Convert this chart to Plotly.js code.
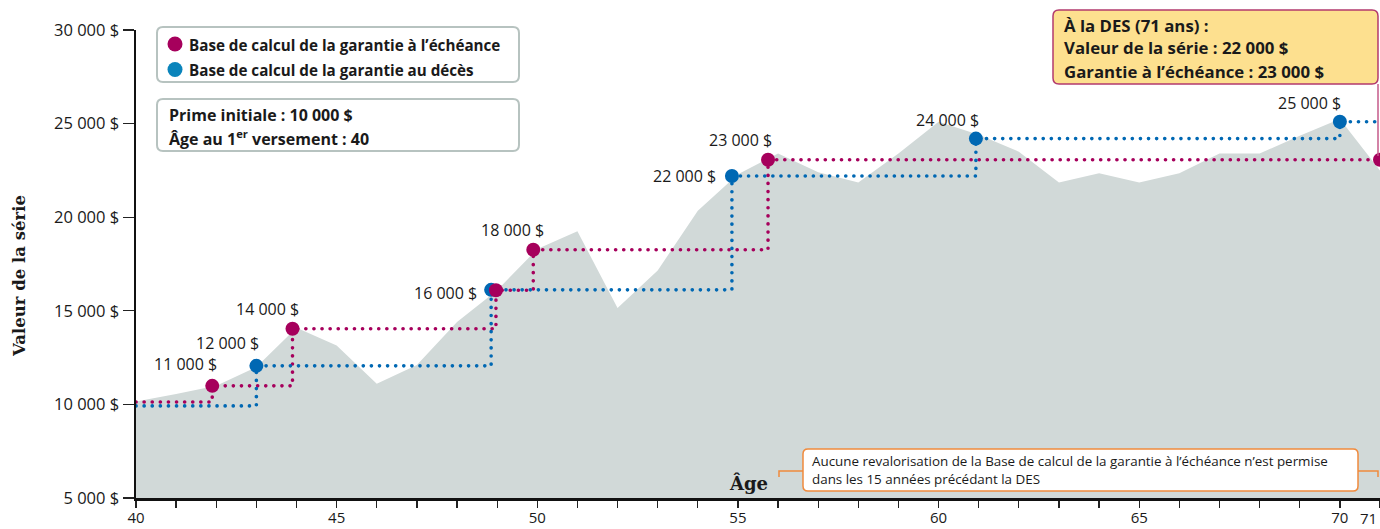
<!DOCTYPE html>
<html>
<head>
<meta charset="utf-8">
<script src="https://cdn.plot.ly/plotly-3.0.1.min.js"></script>
<style>
html,body{margin:0;padding:0;background:#ffffff;}
#chart{width:1380px;height:529px;}
.scatterlayer .js-line{stroke-linecap:round !important;}
</style>
</head>
<body>
<div id="chart"></div>
<script>
// ---------- DATA ----------
const ages = [40,41,42,43,44,45,46,47,48,49,50,51,52,53,54,55,56,57,58,59,60,61,62,63,64,65,66,67,68,69,70,71];
const seriesValue = [10150,10550,11000,12000,14100,13150,11100,12100,14400,16100,18300,19250,15150,17150,20350,22300,23400,22400,21850,23400,25100,24400,23500,21850,22350,21850,22350,23400,23400,24350,25250,22500];

// Base de calcul de la garantie à l'échéance (step line, values as drawn)
const maturityStepAges   = [40, 41.9, 43.9, 48.97, 49.9, 55.75, 71];
const maturityStepValues = [10130, 10990, 14040, 16100, 18260, 23070, 23070];
const maturityLabels     = ['', '11 000 $', '14 000 $', '', '18 000 $', '23 000 $', ''];

// Base de calcul de la garantie au décès (step line, values as drawn)
const deathStepAges   = [40, 43, 48.85, 54.85, 60.93, 70, 71];
const deathStepValues = [9920, 12060, 16120, 22200, 24200, 25100, 25100];
const deathLabels     = ['', '12 000 $', '16 000 $', '22 000 $', '24 000 $', '25 000 $', ''];

const yTickValues = [5000, 10000, 15000, 20000, 25000, 30000];
const yTickLabels = ['5 000 $', '10 000 $', '15 000 $', '20 000 $', '25 000 $', '30 000 $'];
const xTickValues = [40, 45, 50, 55, 60, 65, 70];
const xTickLabels = ['40', '45', '50', '55', '60', '65', '70'];
const lastAgeLabel = '71';

// ---------- STYLE / LAYOUT HELPERS ----------
const MAG = '#a6005c';
const BLUE = '#0068b3';
const AREA = '#d1d9d8';
const TXT = '#1a1a1a';
const FONT = '"Open Sans", Lato, sans-serif';
const W = 1380, H = 529;
const ML = 136, MR = 0, MT = 30, MB = 31;
const PW = W - ML - MR, PH = H - MT - MB;
const X = px => (px - ML) / PW;
const Y = py => (H - MB - py) / PH;
const P = (px, py) => X(px).toFixed(5) + ',' + Y(py).toFixed(5);
function rr(x0, y0, x1, y1, r) {
  return 'M' + P(x0 + r, y0) + ' L' + P(x1 - r, y0) + ' Q' + P(x1, y0) + ' ' + P(x1, y0 + r) +
         ' L' + P(x1, y1 - r) + ' Q' + P(x1, y1) + ' ' + P(x1 - r, y1) +
         ' L' + P(x0 + r, y1) + ' Q' + P(x0, y1) + ' ' + P(x0, y1 - r) +
         ' L' + P(x0, y0 + r) + ' Q' + P(x0, y0) + ' ' + P(x0 + r, y0) + ' Z';
}
// label pixel offsets [xshift, yshift, xanchor]
const maturityLabelPos = [null, [-27, 22, 'center'], [-25, 20, 'center'], null, [-21, 20, 'center'], [-28, 20, 'center'], null];
const deathLabelPos    = [null, [-29, 23, 'center'], [-12, -3, 'right'], [-14, 0, 'right'], [-28, 19, 'center'], [-30, 19, 'center'], null];

const DOT = '0.1px,8px';

const traces = [
  { x: ages, y: seriesValue, type: 'scatter', mode: 'lines', fill: 'tozeroy',
    fillcolor: AREA, line: { width: 0, color: AREA }, hoverinfo: 'skip' },
  { x: maturityStepAges, y: maturityStepValues, type: 'scatter', mode: 'lines',
    line: { shape: 'hv', color: MAG, width: 3.6, dash: DOT }, hoverinfo: 'skip' },
  { x: deathStepAges, y: deathStepValues, type: 'scatter', mode: 'lines',
    line: { shape: 'hv', color: BLUE, width: 3.6, dash: DOT }, hoverinfo: 'skip' },
  { x: deathStepAges.slice(1, 6), y: deathStepValues.slice(1, 6), type: 'scatter', mode: 'markers',
    marker: { color: BLUE, size: 14 }, cliponaxis: false, hoverinfo: 'skip' },
  { x: maturityStepAges.slice(1), y: maturityStepValues.slice(1), type: 'scatter', mode: 'markers',
    marker: { color: MAG, size: 14 }, cliponaxis: false, hoverinfo: 'skip' }
];

const annotations = [];
function addLabels(xs, ys, labels, pos) {
  labels.forEach((t, i) => {
    if (!t) return;
    const p = pos[i];
    annotations.push({ x: xs[i], y: ys[i], xref: 'x', yref: 'y', text: t, showarrow: false,
      xanchor: p[2], yanchor: 'middle', xshift: p[0], yshift: p[1],
      font: { size: 16, color: TXT, family: FONT } });
  });
}
addLabels(maturityStepAges, maturityStepValues, maturityLabels, maturityLabelPos);
addLabels(deathStepAges, deathStepValues, deathLabels, deathLabelPos);

function txt(px, py, text, opts) {
  annotations.push(Object.assign({ x: X(px), y: Y(py), xref: 'paper', yref: 'paper', text: text,
    showarrow: false, xanchor: 'left', yanchor: 'middle', font: { size: 15, color: TXT, family: FONT } }, opts || {}));
}
txt(187, 45, '<b>Base de calcul de la garantie à l’échéance</b>', { font: { size: 15.2, color: TXT, family: FONT } });
txt(187, 70, '<b>Base de calcul de la garantie au décès</b>', { font: { size: 15.2, color: TXT, family: FONT } });
txt(167, 115, '<b>Prime initiale : 10 000 $</b>', { font: { size: 16, color: TXT, family: FONT } });
txt(167, 138, '<b>Âge au 1<sup>er</sup> versement : 40</b>', { font: { size: 16, color: TXT, family: FONT } });
txt(1062, 25, '<b>À la DES (71 ans) :</b>', { font: { size: 16.8, color: TXT, family: FONT } });
txt(1062, 48, '<b>Valeur de la série : 22 000 $</b>', { font: { size: 16.8, color: TXT, family: FONT } });
txt(1062, 71, '<b>Garantie à l’échéance : 23 000 $</b>', { font: { size: 16.8, color: TXT, family: FONT } });
txt(810, 461, 'Aucune revalorisation de la Base de calcul de la garantie à l’échéance n’est permise', { font: { size: 13.4, color: TXT, family: FONT } });
txt(810, 479, 'dans les 15 années précédant la DES', { font: { size: 13.4, color: TXT, family: FONT } });
txt(748, 483, '<b>Âge</b>', { xanchor: 'center', font: { size: 18, color: TXT, family: 'DejaVu Serif, serif' } });
txt(19, 276, '<b>Valeur de la série</b>', { xanchor: 'center', textangle: -90, font: { size: 16.5, color: TXT, family: 'DejaVu Serif, serif' } });
txt(1379, 518, lastAgeLabel, { xanchor: 'right', font: { size: 15, color: TXT, family: FONT } });

const shapes = [
  { type: 'path', xref: 'paper', yref: 'paper', path: rr(157, 27, 519, 82, 6), fillcolor: '#ffffff', line: { color: '#b7c3c0', width: 2 } },
  { type: 'path', xref: 'paper', yref: 'paper', path: rr(157, 99, 519, 151, 6), fillcolor: '#ffffff', line: { color: '#b7c3c0', width: 2 } },
  { type: 'path', xref: 'paper', yref: 'paper', path: rr(1053, 10, 1378, 84, 6), fillcolor: '#fde08f', line: { color: '#b23a6e', width: 1.5 } },
  { type: 'line', xref: 'paper', yref: 'paper', x0: X(1378), x1: X(1378), y0: Y(84), y1: Y(156), line: { color: '#c45a8a', width: 1.5 } },
  { type: 'path', xref: 'paper', yref: 'paper', path: rr(803, 449, 1358, 491, 5), fillcolor: '#ffffff', line: { color: '#f08a3c', width: 1.5 } },
  { type: 'path', xref: 'paper', yref: 'paper', path: 'M' + P(779, 477) + ' L' + P(779, 471) + ' L' + P(803, 471), line: { color: '#f08a3c', width: 1.5 } },
  { type: 'path', xref: 'paper', yref: 'paper', path: 'M' + P(1358, 471) + ' L' + P(1378, 471) + ' L' + P(1378, 477), line: { color: '#f08a3c', width: 1.5 } },
  { type: 'circle', xref: 'paper', yref: 'paper', x0: X(167.5), x1: X(182.5), y0: Y(36.5), y1: Y(51.5), fillcolor: MAG, line: { width: 0 } },
  { type: 'circle', xref: 'paper', yref: 'paper', x0: X(167.5), x1: X(182.5), y0: Y(62), y1: Y(77), fillcolor: '#0a84bb', line: { width: 0 } }
];

const layout = {
  width: W, height: H,
  margin: { l: ML, r: MR, t: MT, b: MB, pad: 0 },
  paper_bgcolor: '#ffffff', plot_bgcolor: '#ffffff',
  showlegend: false,
  font: { family: FONT, size: 15, color: TXT },
  xaxis: { range: [40, 71], tickmode: 'array', tickvals: xTickValues, ticktext: xTickLabels,
    ticks: 'outside', ticklen: 7, tickwidth: 1.3, tickcolor: '#222', ticklabelstandoff: -3,
    minor: { tickmode: 'linear', tick0: 40, dtick: 1, ticks: 'outside', ticklen: 7, tickwidth: 1.3, tickcolor: '#222', showgrid: false },
    showline: true, linecolor: '#111',
    linewidth: 2.5, showgrid: false, zeroline: false, tickfont: { size: 15, color: TXT }, fixedrange: true },
  yaxis: { range: [5000, 30000], tickmode: 'array', tickvals: yTickValues, ticktext: yTickLabels,
    ticks: 'outside', ticklen: 11, tickwidth: 1.3, tickcolor: '#222', showline: true, linecolor: '#111',
    linewidth: 2.5, showgrid: false, zeroline: false, tickfont: { size: 16.5, color: TXT }, fixedrange: true },
  shapes: shapes,
  annotations: annotations
};

Plotly.newPlot('chart', traces, layout, { displayModeBar: false, staticPlot: true });
</script>
</body>
</html>
